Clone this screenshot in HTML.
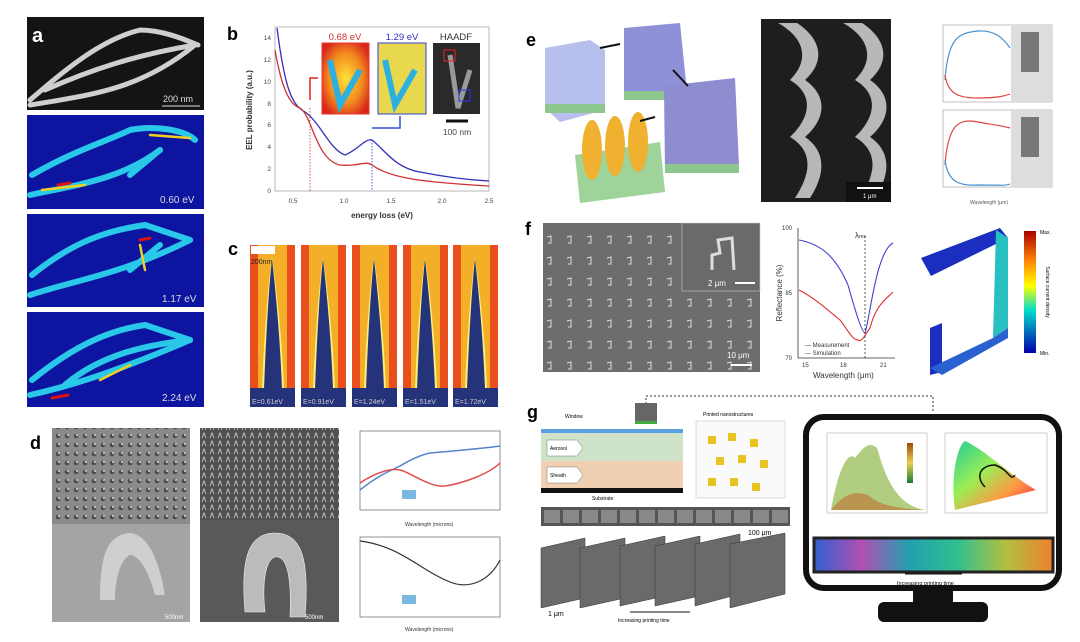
<!DOCTYPE html>
<html><head><meta charset="utf-8"><style>
html,body{margin:0;padding:0;background:#fff;}
svg{display:block;font-family:"Liberation Sans",sans-serif;}
</style></head><body>
<svg width="1080" height="642" viewBox="0 0 1080 642" xmlns="http://www.w3.org/2000/svg">
<defs>
<radialGradient id="hot" cx="50%" cy="50%" r="60%"><stop offset="0" stop-color="#ffe23a"/><stop offset="0.6" stop-color="#f28a1e"/><stop offset="1" stop-color="#d8261b"/></radialGradient>
<linearGradient id="cbar" x1="0" y1="0" x2="0" y2="1"><stop offset="0" stop-color="#a00"/><stop offset="0.25" stop-color="#f80"/><stop offset="0.45" stop-color="#ff0"/><stop offset="0.65" stop-color="#0dc"/><stop offset="1" stop-color="#00a"/></linearGradient>
<linearGradient id="gbar" x1="0" y1="0" x2="0" y2="1"><stop offset="0" stop-color="#a04a10"/><stop offset="0.5" stop-color="#e6d050"/><stop offset="1" stop-color="#1a7a30"/></linearGradient>
<linearGradient id="cie" x1="0" y1="0" x2="1" y2="1"><stop offset="0" stop-color="#2c9"/><stop offset="0.4" stop-color="#9e5"/><stop offset="0.7" stop-color="#f94"/><stop offset="1" stop-color="#e24"/></linearGradient>
<linearGradient id="strip" x1="0" y1="0" x2="1" y2="0"><stop offset="0" stop-color="#3060d0"/><stop offset="0.2" stop-color="#b050b0"/><stop offset="0.4" stop-color="#20a0b0"/><stop offset="0.6" stop-color="#30c090"/><stop offset="0.8" stop-color="#b0c040"/><stop offset="1" stop-color="#f08030"/></linearGradient>
<g id="cimg">
<rect x="0" y="0" width="45" height="162" fill="#e84f1c"/>
<rect x="8" y="0" width="29" height="162" fill="#f7c52a" opacity="0.8"/>
<path d="M12 145 C 14 90,18 40,22 12 C 26 40,32 90,34 145 Z" fill="#f8f080"/>
<path d="M14 145 C 16 90,19 40,22 14 C 25 40,30 90,32 145 Z" fill="#24337a"/>
<rect x="0" y="143" width="45" height="19" fill="#24337a"/>
</g>
<pattern id="dots" width="9" height="9" patternUnits="userSpaceOnUse"><rect width="9" height="9" fill="#8a8a8a"/><circle cx="4" cy="4" r="2.3" fill="#4a4a4a"/><circle cx="5" cy="3" r="1.2" fill="#bbb"/></pattern>
<pattern id="dots2" width="8" height="8" patternUnits="userSpaceOnUse"><rect width="8" height="8" fill="#505050"/><path d="M2 6 L4 1 L6 6" stroke="#bbb" fill="none"/></pattern>
<pattern id="fp" width="20" height="21" patternUnits="userSpaceOnUse"><rect width="20" height="21" fill="#6d6d6d"/><path d="M7 6 L11 5 L11 12 L8 12" stroke="#ddd" stroke-width="1" fill="none"/></pattern>
</defs>

<!-- Panel a -->
<rect x="27" y="17" width="177" height="93" fill="#141414"/>
<g fill="none" stroke="#cfcfcf" stroke-width="5" stroke-linecap="round">
<path d="M30 100 C 65 70,100 40,140 30 C 165 30,190 42,198 45"/>
<path d="M45 90 C 90 70,135 55,195 45"/>
<path d="M30 105 C 90 95,140 90,195 45"/>
</g>
<text x="32" y="42" font-size="20" font-weight="bold" fill="#fff">a</text>
<text x="163" y="102" font-size="9" fill="#ddd">200 nm</text>
<line x1="162" y1="106" x2="200" y2="106" stroke="#ddd"/>
<rect x="27" y="115" width="177" height="94" fill="#0c14a0"/>
<rect x="27" y="214" width="177" height="93" fill="#0c14a0"/>
<rect x="27" y="312" width="177" height="95" fill="#0c14a0"/>
<g fill="none" stroke-linecap="round">
<g stroke="#29c7e8" stroke-width="6">
<path d="M30 195 C 75 185,120 180,160 150"/><path d="M32 175 C 75 150,110 140,130 130 C 155 125,185 130,195 140"/><path d="M130 175 L 160 150"/>
<path d="M30 295 C 75 280,120 275,190 240"/><path d="M32 275 C 75 240,110 230,145 225 L 190 240"/><path d="M130 270 L 160 245"/>
<path d="M30 395 C 75 385,120 370,190 340"/><path d="M32 380 C 75 345,110 330,145 325 L 190 340"/><path d="M65 385 C 100 355,145 345,190 340"/>
</g>
<g stroke="#f0d020" stroke-width="2.5"><path d="M42 190 L 85 185"/><path d="M150 135 L 190 138"/><path d="M140 245 L 145 270"/><path d="M100 380 L 130 365"/></g>
<g stroke="#e01010" stroke-width="3"><path d="M58 185 L 70 183"/><path d="M140 240 L 150 238"/><path d="M52 398 L 68 395"/></g>
</g>
<text x="160" y="203" font-size="10" fill="#ddd">0.60 eV</text>
<text x="162" y="302" font-size="10" fill="#ddd">1.17 eV</text>
<text x="162" y="401" font-size="10" fill="#ddd">2.24 eV</text>

<!-- Panel b -->
<text x="227" y="40" font-size="18" font-weight="bold">b</text>
<rect x="275" y="27" width="214" height="164" fill="none" stroke="#999" stroke-width="0.7"/>
<g font-size="6.5" fill="#444" text-anchor="end">
<text x="271" y="193">0</text><text x="271" y="171">2</text><text x="271" y="149">4</text><text x="271" y="127">6</text><text x="271" y="106">8</text><text x="271" y="84">10</text><text x="271" y="62">12</text><text x="271" y="40">14</text></g>
<g font-size="6.5" fill="#444" text-anchor="middle"><text x="293" y="203">0.5</text><text x="344" y="203">1.0</text><text x="391" y="203">1.5</text><text x="442" y="203">2.0</text><text x="489" y="203">2.5</text></g>
<text x="382" y="218" font-size="8" font-weight="bold" text-anchor="middle" fill="#333">energy loss (eV)</text>
<text transform="translate(252 110) rotate(-90)" font-size="8" font-weight="bold" text-anchor="middle" fill="#333">EEL probability (a.u.)</text>
<path d="M277 28 C 285 90,292 105,305 112 C 320 122,330 150,345 155 C 358 150,365 138,372 140 C 385 150,395 168,420 172 C 450 178,470 180,489 181" fill="none" stroke="#3030c0" stroke-width="1.3"/>
<path d="M275 50 C 282 90,290 105,300 108 C 312 115,316 160,340 165 C 360 167,365 160,372 165 C 390 178,420 182,489 186" fill="none" stroke="#d03030" stroke-width="1.3"/>
<line x1="310" y1="108" x2="310" y2="191" stroke="#d03030" stroke-dasharray="1.5 1.5" stroke-width="0.8"/>
<line x1="372" y1="140" x2="372" y2="191" stroke="#3030c0" stroke-dasharray="1.5 1.5" stroke-width="0.8"/>
<path d="M310 100 L310 78 L318 78" fill="none" stroke="#e02020" stroke-width="1.5"/>
<path d="M372 128 L400 128 L400 116" fill="none" stroke="#3050d0" stroke-width="1.5"/>
<rect x="322" y="43" width="47" height="71" fill="url(#hot)" stroke="#e33"/>
<path d="M330 60 L 340 105 L360 70" fill="none" stroke="#2bb0e0" stroke-width="6"/>
<rect x="378" y="43" width="48" height="71" fill="#e8d850" stroke="#34c"/>
<path d="M385 60 L 395 105 L415 70" fill="none" stroke="#2bb0e0" stroke-width="6"/>
<text x="345" y="40" font-size="9.5" fill="#d03030" text-anchor="middle">0.68 eV</text>
<text x="402" y="40" font-size="9.5" fill="#3030c0" text-anchor="middle">1.29 eV</text>
<text x="456" y="40" font-size="9.5" fill="#333" text-anchor="middle">HAADF</text>
<rect x="433" y="43" width="47" height="71" fill="#2a2a2a"/>
<path d="M450 55 L 458 108 L470 70" fill="none" stroke="#999" stroke-width="5"/>
<rect x="444" y="50" width="11" height="11" fill="none" stroke="#e22"/><rect x="459" y="90" width="11" height="11" fill="none" stroke="#33e"/>
<line x1="446" y1="121" x2="468" y2="121" stroke="#111" stroke-width="3"/>
<text x="457" y="135" font-size="8.5" fill="#444" text-anchor="middle">100 nm</text>

<!-- Panel c -->
<text x="228" y="255" font-size="18" font-weight="bold">c</text>
<use href="#cimg" x="250" y="245"/><use href="#cimg" x="301" y="245"/><use href="#cimg" x="352" y="245"/><use href="#cimg" x="403" y="245"/><use href="#cimg" x="453" y="245"/>
<rect x="251" y="246" width="24" height="8" fill="#fff"/>
<text x="251" y="264" font-size="7" fill="#222">200nm</text>
<g font-size="7" fill="#ccc"><text x="252" y="404">E=0.61eV</text><text x="303" y="404">E=0.91eV</text><text x="354" y="404">E=1.24eV</text><text x="405" y="404">E=1.51eV</text><text x="455" y="404">E=1.72eV</text></g>

<!-- Panel d -->
<text x="30" y="449" font-size="18" font-weight="bold">d</text>
<rect x="52" y="428" width="138" height="96" fill="url(#dots)"/>
<rect x="52" y="524" width="138" height="98" fill="#a4a4a4"/>
<path d="M100 600 C 100 560,105 535,130 533 C 150 535,160 565,165 595 L155 595 C 150 575,140 555,130 555 C 120 560,115 580,115 600 Z" fill="#cfcfcf"/>
<text x="165" y="619" font-size="6" fill="#fff">500nm</text>
<rect x="200" y="428" width="139" height="194" fill="#595959"/>
<rect x="200" y="428" width="139" height="92" fill="url(#dots2)"/>
<path d="M245 612 C 240 555,250 533,275 533 C 300 533,310 555,305 617 L290 617 C 292 570,285 555,275 557 C 265 560,262 585,265 612 Z" fill="#bbb" stroke="#eee" stroke-width="0.6"/>
<text x="305" y="619" font-size="6" fill="#fff">500nm</text>
<g font-size="5" fill="#333">
<rect x="360" y="431" width="140" height="79" fill="#fff" stroke="#666" stroke-width="0.7"/>
<path d="M360 490 C 375 478,385 473,400 466 C 410 460,420 455,430 453 C 450 451,480 449,500 446" fill="none" stroke="#5585c8" stroke-width="1.5"/>
<path d="M360 483 C 375 473,390 468,400 470 C 410 472,430 488,445 486 C 465 483,490 473,500 463" fill="none" stroke="#e05050" stroke-width="1.5"/>
<text x="405" y="526">Wavelength (microns)</text>
<rect x="360" y="537" width="140" height="80" fill="#fff" stroke="#666" stroke-width="0.7"/>
<path d="M360 541 C 400 546,420 570,450 582 C 470 590,490 580,500 560" fill="none" stroke="#333" stroke-width="1.2"/>
<text x="405" y="631">Wavelength (microns)</text>
<rect x="402" y="490" width="14" height="9" fill="#7ab8e0"/><rect x="402" y="595" width="14" height="9" fill="#7ab8e0"/>
</g>

<!-- Panel e -->
<text x="526" y="46" font-size="18" font-weight="bold">e</text>
<polygon points="545,48 590,40 605,50 605,110 560,122 545,108" fill="#aab5ea" opacity="0.85"/>
<rect x="545" y="104" width="60" height="9" fill="#8ec78e"/>
<polygon points="624,28 680,23 687,92 624,98" fill="#8e90d8"/>
<rect x="624" y="91" width="63" height="9" fill="#8ec78e"/>
<polygon points="664,86 735,78 739,165 665,173" fill="#8e8dd0"/>
<rect x="665" y="164" width="74" height="9" fill="#8ec78e"/>
<polygon points="575,155 660,142 665,192 580,203" fill="#9ed39a"/>
<g fill="#f0b030"><ellipse cx="592" cy="150" rx="10" ry="30"/><ellipse cx="615" cy="146" rx="10" ry="30"/><ellipse cx="638" cy="142" rx="10" ry="30"/></g>
<line x1="600" y1="48" x2="620" y2="44" stroke="#111" stroke-width="2"/>
<line x1="673" y1="70" x2="688" y2="86" stroke="#111" stroke-width="2"/>
<line x1="655" y1="117" x2="640" y2="121" stroke="#111" stroke-width="2"/>
<rect x="761" y="19" width="130" height="183" fill="#1e1e1e"/>
<g fill="#b8b8b8"><path d="M778 23 C 805 38,810 60,790 80 C 815 95,810 118,790 137 C 815 152,810 175,795 198 L810 198 C 825 175,827 152,805 137 C 827 118,827 95,805 80 C 827 60,820 38,797 23 Z"/>
<path d="M843 23 C 870 38,875 60,855 80 C 880 95,875 118,855 137 C 880 152,875 175,860 198 L875 198 C 890 175,892 152,870 137 C 892 118,892 95,870 80 C 892 60,885 38,862 23 Z"/></g>
<rect x="846" y="182" width="45" height="20" fill="#111"/>
<line x1="857" y1="188" x2="883" y2="188" stroke="#fff" stroke-width="2"/>
<text x="863" y="198" font-size="6" fill="#fff">1 μm</text>
<g font-size="5" fill="#555">
<rect x="943" y="25" width="109" height="77" fill="#fff" stroke="#999" stroke-width="0.6"/>
<rect x="1011" y="25" width="41" height="77" fill="#ddd"/>
<path d="M945 80 C 948 38,958 33,978 31 C 995 30,1003 38,1010 48" fill="none" stroke="#4a90d0" stroke-width="1.2"/>
<path d="M945 75 C 948 95,960 98,978 98 C 998 98,1005 96,1010 94" fill="none" stroke="#e04545" stroke-width="1.2"/>
<rect x="1021" y="32" width="18" height="40" fill="#777"/>
<rect x="943" y="110" width="109" height="77" fill="#fff" stroke="#999" stroke-width="0.6"/>
<rect x="1011" y="110" width="41" height="77" fill="#ddd"/>
<path d="M945 165 C 948 125,958 118,978 122 C 995 125,1003 126,1010 128" fill="none" stroke="#e04545" stroke-width="1.2"/>
<path d="M945 160 C 948 183,960 186,978 185 C 998 185,1005 186,1010 184" fill="none" stroke="#4a90d0" stroke-width="1.2"/>
<rect x="1021" y="117" width="18" height="40" fill="#777"/>
<text x="970" y="204">Wavelength (μm)</text>
</g>

<!-- Panel f -->
<text x="525" y="235" font-size="18" font-weight="bold">f</text>
<rect x="543" y="223" width="217" height="149" fill="url(#fp)"/>
<rect x="682" y="223" width="78" height="68" fill="#6a6a6a" stroke="#ccc" stroke-width="0.6"/>
<path d="M712 270 L712 255 L720 253 L718 240 L732 238 L734 270" fill="none" stroke="#ddd" stroke-width="3"/>
<text x="708" y="286" font-size="8" fill="#fff">2 μm</text><line x1="735" y1="283" x2="755" y2="283" stroke="#fff" stroke-width="2"/>
<text x="727" y="358" font-size="8" fill="#fff">10 μm</text><line x1="731" y1="365" x2="752" y2="365" stroke="#fff" stroke-width="2"/>
<g font-size="6" fill="#333">
<line x1="798" y1="228" x2="798" y2="358" stroke="#333" stroke-width="0.8"/>
<line x1="798" y1="358" x2="895" y2="358" stroke="#333" stroke-width="0.8"/>
<text x="792" y="230" text-anchor="end">100</text><text x="792" y="295" text-anchor="end">85</text><text x="792" y="360" text-anchor="end">70</text>
<text x="802" y="367">15</text><text x="840" y="367">18</text><text x="880" y="367">21</text>
<text x="813" y="378" font-size="8">Wavelength (μm)</text>
<text transform="translate(782 293) rotate(-90)" font-size="8" text-anchor="middle">Reflectance (%)</text>
<path d="M799 240 C 820 244,835 255,848 285 C 855 310,862 333,865 333 C 870 318,876 252,893 243" fill="none" stroke="#4040d0" stroke-width="1.1"/>
<path d="M799 290 C 815 298,830 312,840 320 C 848 330,852 340,858 340 C 862 343,866 333,870 328 C 876 305,885 300,893 292" fill="none" stroke="#e03030" stroke-width="1.1"/>
<line x1="865" y1="236" x2="865" y2="358" stroke="#333" stroke-dasharray="2 2" stroke-width="0.8"/>
<text x="855" y="238" font-size="8">λ<tspan font-size="5">res</tspan></text>
<text x="805" y="347">— Measurement</text><text x="805" y="355">— Simulation</text>
</g>
<polygon points="921,258 1000,228 1008,238 931,276" fill="#1a2fc0"/>
<polygon points="996,230 1008,238 1008,328 993,338" fill="#28c0c0"/>
<polygon points="930,328 942,323 942,372 930,375" fill="#1a2fc0"/>
<polygon points="930,368 993,338 1008,328 1008,338 942,375" fill="#2a60d0"/>
<rect x="1024" y="231" width="12" height="122" fill="url(#cbar)"/>
<text x="1040" y="234" font-size="5">Max.</text><text x="1040" y="355" font-size="5">Min.</text>
<text transform="translate(1046 292) rotate(90)" font-size="5" text-anchor="middle">Surface current density</text>

<!-- Panel g -->
<text x="527" y="418" font-size="18" font-weight="bold">g</text>
<path d="M646 404 L646 396 L933 396 L933 412" fill="none" stroke="#333" stroke-dasharray="2 2"/>
<rect x="635" y="403" width="22" height="18" fill="#666"/><rect x="635" y="421" width="22" height="3" fill="#4a4"/>
<text x="565" y="418" font-size="5">Window</text>
<rect x="541" y="429" width="142" height="4" fill="#5aa0e0"/>
<rect x="541" y="433" width="142" height="28" fill="#cfe3c8"/>
<rect x="541" y="461" width="142" height="27" fill="#f0d0b0"/>
<rect x="541" y="488" width="142" height="5" fill="#111"/>
<text x="592" y="500" font-size="5">Substrate</text>
<polygon points="547,440 577,440 583,448 577,456 547,456" fill="#fff" stroke="#777" stroke-width="0.5"/><text x="550" y="450" font-size="5">Aerosol</text>
<polygon points="547,467 577,467 583,475 577,483 547,483" fill="#fff" stroke="#777" stroke-width="0.5"/><text x="550" y="477" font-size="5">Sheath</text>
<rect x="696" y="421" width="89" height="77" fill="#fafafa" stroke="#bbb" stroke-width="0.5"/>
<text x="703" y="416" font-size="5">Printed nanostructures</text>
<g fill="#e9c420"><rect x="708" y="436" width="8" height="8"/><rect x="728" y="433" width="8" height="8"/><rect x="750" y="439" width="8" height="8"/><rect x="716" y="457" width="8" height="8"/><rect x="738" y="455" width="8" height="8"/><rect x="760" y="460" width="8" height="8"/><rect x="708" y="478" width="8" height="8"/><rect x="730" y="478" width="8" height="8"/><rect x="752" y="483" width="8" height="8"/></g>
<rect x="541" y="507" width="249" height="19" fill="#555"/>
<g fill="#888"><rect x="544" y="510" width="16" height="13"/><rect x="563" y="510" width="16" height="13"/><rect x="582" y="510" width="16" height="13"/><rect x="601" y="510" width="16" height="13"/><rect x="620" y="510" width="16" height="13"/><rect x="639" y="510" width="16" height="13"/><rect x="658" y="510" width="16" height="13"/><rect x="677" y="510" width="16" height="13"/><rect x="696" y="510" width="16" height="13"/><rect x="715" y="510" width="16" height="13"/><rect x="734" y="510" width="16" height="13"/><rect x="753" y="510" width="16" height="13"/><rect x="772" y="510" width="16" height="13"/></g>
<text x="748" y="535" font-size="7">100 μm</text>
<g fill="#6a6a6a" stroke="#333" stroke-width="0.5">
<polygon points="541,548 585,538 585,598 541,608"/><polygon points="580,548 625,538 625,598 580,608"/><polygon points="620,546 665,536 665,596 620,606"/><polygon points="655,546 700,536 700,596 655,606"/><polygon points="695,544 740,534 740,594 695,606"/><polygon points="730,544 785,533 785,594 730,608"/></g>
<text x="548" y="616" font-size="7">1 μm</text>
<line x1="630" y1="612" x2="690" y2="612" stroke="#111"/>
<text x="618" y="622" font-size="5">Increasing printing time</text>
<!-- monitor -->
<rect x="806" y="417" width="253" height="171" rx="18" fill="#fff" stroke="#111" stroke-width="6"/>
<rect x="913" y="590" width="40" height="13" fill="#111"/>
<rect x="878" y="602" width="110" height="20" rx="6" fill="#111"/>
<rect x="827" y="433" width="100" height="80" fill="#fff" stroke="#999" stroke-width="0.5"/>
<path d="M831 510 C 838 470,848 450,855 458 C 862 450,868 440,877 448 C 885 475,895 505,925 510 Z" fill="#9cc060" opacity="0.8"/>
<path d="M831 510 C 843 495,853 490,868 495 C 878 503,888 508,925 510 Z" fill="#c07030" opacity="0.6"/>
<rect x="907" y="443" width="6" height="40" fill="url(#gbar)"/>
<rect x="945" y="433" width="102" height="80" fill="#fff" stroke="#999" stroke-width="0.5"/>
<path d="M955 510 C 950 475,958 445,965 441 C 985 450,1010 475,1036 490 Z" fill="url(#cie)"/>
<path d="M985 487 C 975 477,980 465,995 465 C 1010 470,1010 482,1015 475" fill="none" stroke="#111" stroke-width="1.5"/>
<rect x="814" y="538" width="239" height="34" fill="url(#strip)" stroke="#222" stroke-width="3"/>
<line x1="905" y1="574" x2="962" y2="574" stroke="#111"/>
<text x="897" y="585" font-size="5.5">Increasing printing time</text>
</svg>
</body></html>
